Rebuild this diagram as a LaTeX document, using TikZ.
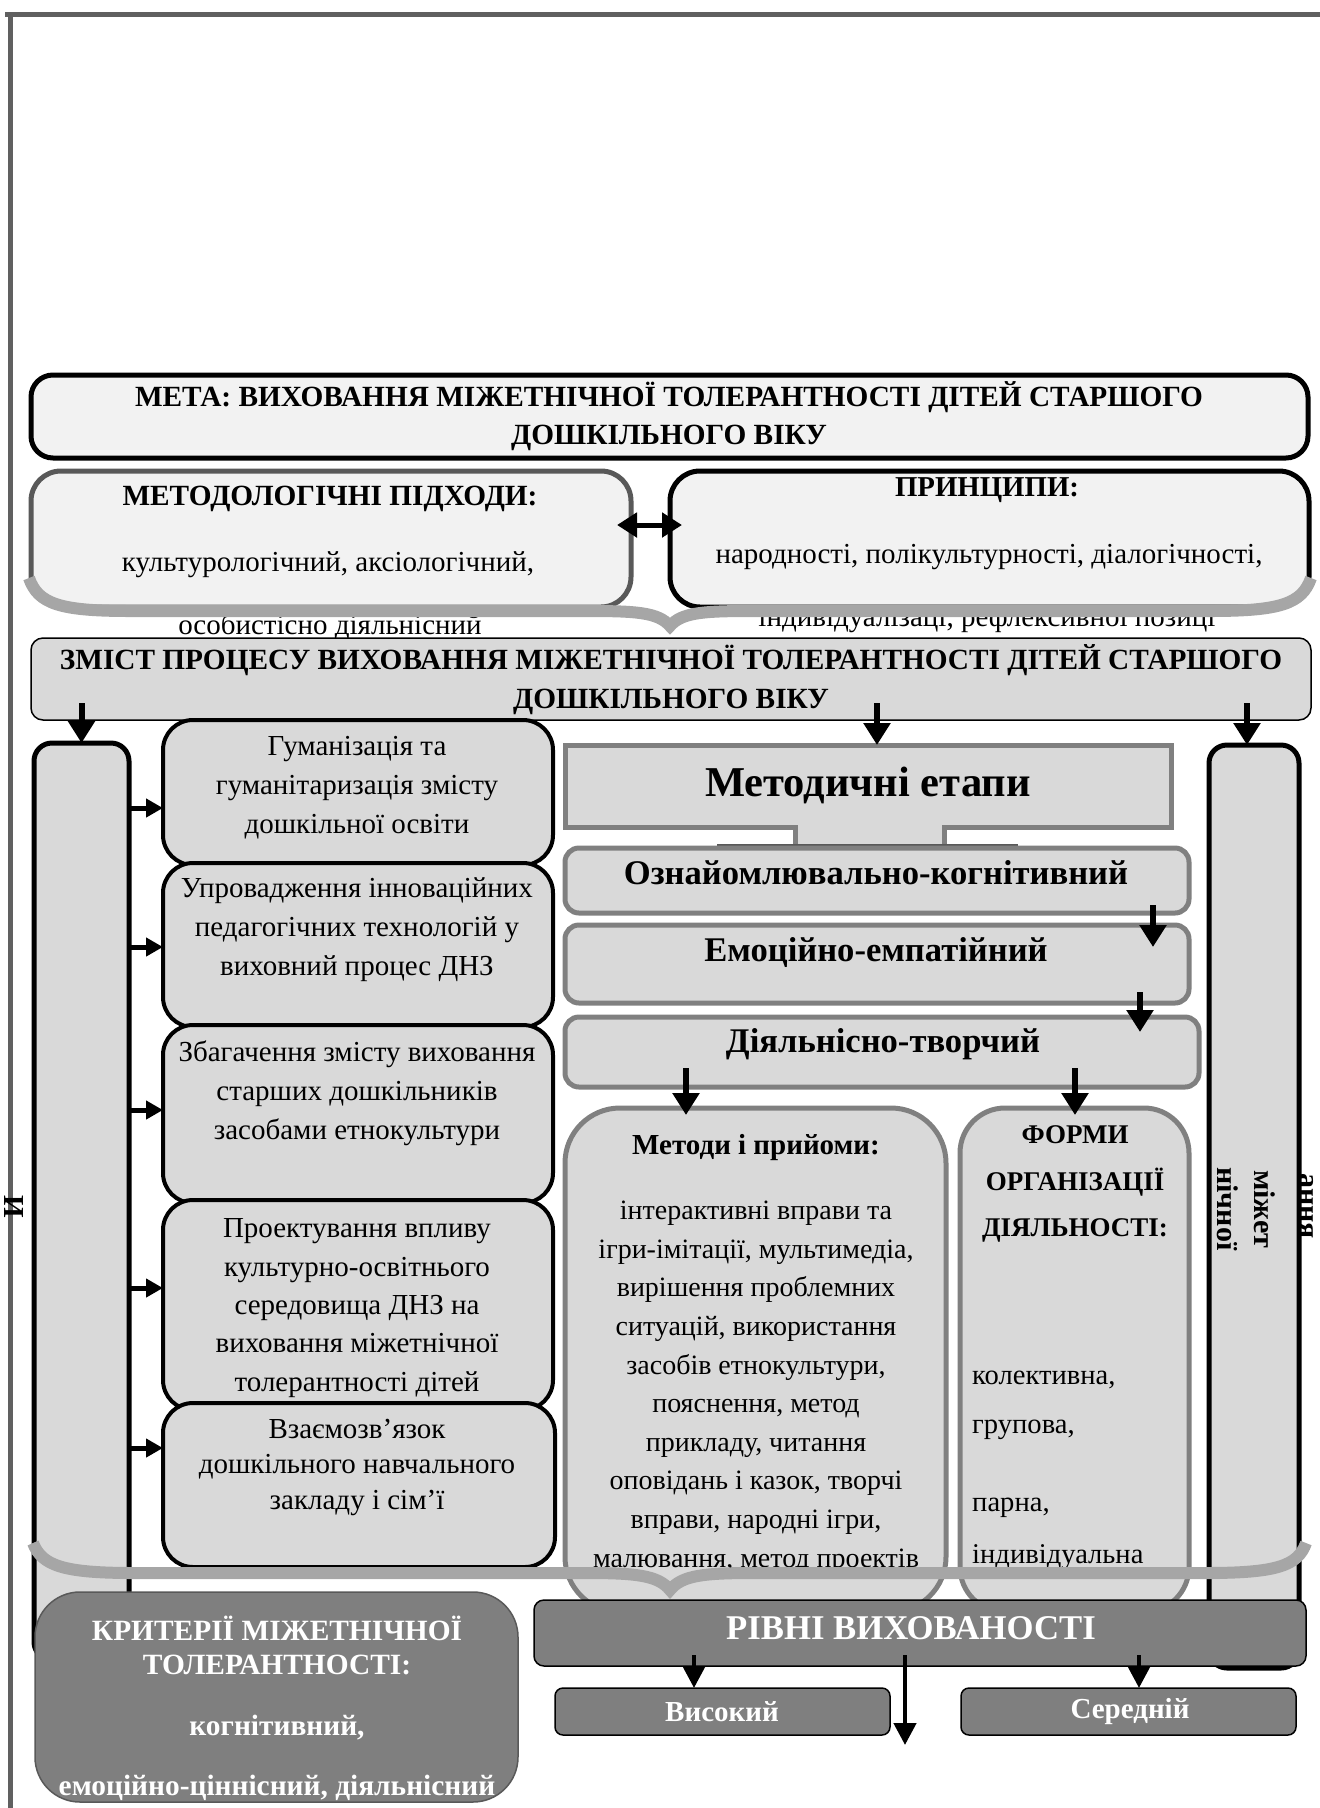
\documentclass[tikz,border=0pt]{standalone}
\usepackage{fontspec}
\setmainfont{Liberation Serif}
\usetikzlibrary{arrows.meta,calc}
\definecolor{gf}{HTML}{D9D9D9}
\definecolor{lf}{HTML}{F2F2F2}
\definecolor{mg}{HTML}{808080}
\definecolor{dg}{HTML}{595959}
\definecolor{bc}{HTML}{A6A6A6}
\definecolor{df}{HTML}{7F7F7F}
\definecolor{fr}{HTML}{606060}
\newcommand\fs[2]{\fontsize{#1pt}{#2pt}\selectfont}
\newcommand\mybox[6][]{\node[#1, inner sep=0pt, outer sep=0pt, anchor=north west, minimum width={(#5-#3)*1pt}, minimum height={(#6-#4)*1pt}] (#2) at (#3,#4) {};}
\begin{document}
\begin{tikzpicture}[x=1pt,y=-1pt,
 metab/.style={draw=black,line width=5pt,fill=lf,rounded corners=22pt},
 mdb/.style={draw=dg,line width=5pt,fill=lf,rounded corners=30pt},
 prb/.style={draw=black,line width=5pt,fill=lf,rounded corners=30pt},
 zmb/.style={draw=black,line width=1.5pt,fill=gf,rounded corners=12pt},
 colb/.style={draw=black,line width=5pt,fill=gf,rounded corners=18pt},
 lb/.style={draw=black,line width=4pt,fill=gf,rounded corners=30pt},
 stb/.style={draw=mg,line width=5pt,fill=gf,rounded corners=14pt},
 mtb/.style={draw=mg,line width=5pt,fill=gf,rounded corners=55pt},
 fmb/.style={draw=mg,line width=5pt,fill=gf,rounded corners=45pt},
 kb/.style={draw=dg,line width=1.5pt,fill=df,rounded corners=45pt},
 rb/.style={draw=black,line width=1.5pt,fill=df,rounded corners=10pt},
 vb/.style={draw=black,line width=1.5pt,fill=df,rounded corners=8pt},
 brace/.style={draw=bc,line width=12pt,line join=miter},
 darr/.style={line width=6pt,-{Triangle[length=22pt,width=26pt]}},
 sarr/.style={line width=5pt,-{Triangle[length=17pt,width=18pt]}},
 larr/.style={line width=4.5pt,-{Triangle[length=22pt,width=22pt]}},
 dbl/.style={line width=5pt,{Triangle[length=20pt,width=24pt]}-{Triangle[length=20pt,width=24pt]}},
 tx/.style={inner sep=0pt,align=center,font=\fs{29}{39}},
 bt/.style={inner sep=0pt,align=center,font=\fs{29.3}{38}\bfseries},
 wt/.style={inner sep=0pt,align=center,text=white,font=\fs{29.4}{34}\bfseries},
 rot/.style={inner sep=0pt,rotate=-90,anchor=west,font=\fs{30}{32}\bfseries}
]
\useasboundingbox (0,0) rectangle (1320,1808);
% outer frame
\draw[fr,line width=5pt] (5,14.5) -- (1320,14.5);
\draw[fr,line width=5pt] (10,12) -- (10,1808);
% goal
\mybox[metab]{meta}{31}{375}{1308}{458}
\node[bt] (tMeta) at (669,416) {МЕТА: ВИХОВАННЯ МІЖЕТНІЧНОЇ ТОЛЕРАНТНОСТІ ДІТЕЙ СТАРШОГО\\ДОШКІЛЬНОГО ВІКУ};
% approaches and principles
\mybox[mdb]{md}{31}{471}{631}{607}
\mybox[prb]{pr}{670}{471}{1309}{607}
\node[bt,font=\fs{29.3}{32}\bfseries] (tMd1) at (330,499) {МЕТОДОЛОГІЧНІ ПІДХОДИ:};
\node[tx] (tMd2) at (328,565) {культурологічний, аксіологічний,};
\node[tx] (tMd3) at (330,627) {особистісно діяльнісний};
\node[bt,font=\fs{28.8}{32}\bfseries] (tPr1) at (987,490) {ПРИНЦИПИ:};
\node[tx] (tPr2) at (989,557) {народності, полікультурності, діалогічності,};
\node[tx] (tPr3) at (987,620) {індивідуалізаці, рефлексивної позиці};
\draw[dbl] ($(md.east)+(-14,-14)$) -- ($(pr.west)+(12,-14)$);
% top brace
\draw[brace] (29,578) .. controls (38,604) and (60,611) .. (130,611) -- (585,611) .. controls (635,611) and (658,612) .. (670,626) .. controls (682,612) and (705,611) .. (755,611) -- (1210,611) .. controls (1280,611) and (1302,604) .. (1311,578);
% content
\mybox[zmb]{zm}{31}{638}{1311}{720}
\node[bt,font=\fs{29.3}{39}\bfseries] (tZm) at (671,680) {ЗМІСТ ПРОЦЕСУ ВИХОВАННЯ МІЖЕТНІЧНОЇ ТОЛЕРАНТНОСТІ ДІТЕЙ СТАРШОГО\\ДОШКІЛЬНОГО ВІКУ};
% columns
\mybox[colb]{lc}{34}{743}{129}{1660}
\mybox[colb]{rc}{1209}{745}{1299}{1668}
\node[inner sep=0pt,rotate=-90,font=\fs{29}{30}\bfseries] (tI) at (14,1207) {И};
\node[rot] (tR1) at (1265,1170) {міжет};
\node[rot] (tR2) at (1228,1167) {нічної};
\node[rot] (tR3) at (1306,1173) {ання};
% left boxes
\mybox[lb]{bA}{163}{720}{553}{865}
\mybox[lb]{bB}{163}{863}{553}{1027}
\mybox[lb]{bC}{163}{1025}{553}{1203}
\mybox[lb]{bD}{163}{1200}{553}{1410}
\mybox[lb]{bE}{163}{1403}{555}{1567}
\node[tx] (tA) at (357,788) {Гуманізація та\\гуманітаризація змісту\\дошкільної освіти};
\node[tx] (tB) at (357,930) {Упровадження інноваційних\\педагогічних технологій у\\виховний процес ДНЗ};
\node[tx] (tC) at (357,1093) {Збагачення змісту виховання\\старших дошкільників\\засобами етнокультури};
\node[tx,font=\fs{29}{38.3}] (tD) at (357,1308) {Проектування впливу\\культурно-освітнього\\середовища ДНЗ на\\виховання міжетнічної\\толерантності дітей};
\node[tx,font=\fs{29}{35.5}] (tE) at (357,1467) {Взаємозв’язок\\дошкільного навчального\\закладу і сім’ї};
\draw[sarr] (lc.east |- 0,808) -- (bA.west |- 0,808);
\draw[sarr] (lc.east |- 0,947) -- (bB.west |- 0,947);
\draw[sarr] (lc.east |- 0,1110) -- (bC.west |- 0,1110);
\draw[sarr] (lc.east |- 0,1288) -- (bD.west |- 0,1288);
\draw[sarr] (lc.east |- 0,1448) -- (bE.west |- 0,1448);
% methodical stages
\draw[draw=mg,line width=5pt,fill=gf] (565,745) -- (1171,745) -- (1171,827) -- (944,827) -- (944,852) -- (795,852) -- (795,827) -- (565,827) -- cycle;
\mybox{me}{565}{745}{1171}{827}
\draw[dg,line width=1.5pt] (717,845) -- (1018,845);
\node[inner sep=0pt,font=\fs{42.5}{45}\bfseries] (tMe) at (868,785) {Методичні етапи};
\mybox[stb]{oz}{565}{848}{1189}{913}
\mybox[stb]{em}{565}{925}{1189}{1003}
\mybox[stb]{dt}{565}{1017}{1199}{1087}
\node[inner sep=0pt,font=\fs{34.6}{36}\bfseries] (tOz) at (876,873) {Ознайомлювально-когнітивний};
\node[inner sep=0pt,font=\fs{34.6}{36}\bfseries] (tEm) at (876,952) {Емоційно-емпатійний};
\node[inner sep=0pt,font=\fs{34.6}{36}\bfseries] (tDt) at (883,1044) {Діяльнісно-творчий};
% arrows from content
\draw[darr] ([yshift=17pt]zm.south -| lc.north) -- (lc.north);
\draw[darr] ($(me.north)+(9,-42)$) -- ($(me.north)+(9,0)$);
\draw[darr] ($(rc.north)+(-7,-42)$) -- ($(rc.north)+(-7,0)$);
% stage arrows
\draw[darr] ($(oz.south east)+(-36,-8)$) -- ($(em.north east)+(-36,22)$);
\draw[darr] ($(em.south east)+(-49,-11)$) -- ($(dt.north east)+(-59,15)$);
% methods and forms
\mybox[mtb]{mt}{565}{1108}{946}{1612}
\mybox[fmb]{fm}{960}{1108}{1189}{1612}
\draw[darr] ($(dt.south west)+(121,-19)$) -- ($(mt.north west)+(121,7)$);
\draw[darr] ($(dt.south west)+(510,-19)$) -- ($(fm.north west)+(115,7)$);
\node[inner sep=0pt,font=\fs{29}{30}\bfseries] (tMt1) at (756,1148) {Методи і прийоми:};
\node[tx,font=\fs{28}{38.6}] (tMt2) at (756,1387) {інтерактивні вправи та\\ігри-імітації, мультимедіа,\\вирішення проблемних\\ситуацій, використання\\засобів етнокультури,\\пояснення, метод\\прикладу, читання\\оповідань і казок, творчі\\вправи, народні ігри,\\малювання, метод проектів};
\node[inner sep=0pt,align=center,font=\fs{27}{46.5}\bfseries] (tFm1) at (1075,1184) {ФОРМИ\\ОРГАНІЗАЦІЇ\\ДІЯЛЬНОСТІ:};
\node[tx,anchor=west,font=\fs{28.6}{30}] (tFm2) at (972,1380) {колективна,};
\node[tx,anchor=west,font=\fs{28.6}{30}] (tFm3) at (972,1430) {групова,};
\node[tx,anchor=west,font=\fs{28.6}{30}] (tFm4) at (972,1508) {парна,};
\node[tx,anchor=west,font=\fs{28.6}{30}] (tFm5) at (972,1557) {індивідуальна};
% bottom brace
\draw[brace] (33,1543) .. controls (42,1566) and (64,1573) .. (134,1573) -- (585,1573) .. controls (635,1573) and (658,1575) .. (670,1590) .. controls (682,1575) and (705,1573) .. (755,1573) -- (1206,1573) .. controls (1276,1573) and (1298,1566) .. (1306,1543);
% levels
\mybox[rb]{rv}{534}{1600}{1306}{1666}
\node[wt,font=\fs{34.7}{36}\bfseries] (tRv) at (911,1628) {РІВНІ ВИХОВАНОСТІ};
\mybox[vb]{vs}{555}{1688}{890}{1735}
\mybox[vb]{sr}{961}{1688}{1296}{1735}
\node[wt,font=\fs{29}{30}\bfseries] (tVs) at (722,1712) {Високий};
\node[wt,font=\fs{29}{30}\bfseries] (tSr) at (1130,1712) {Середній};
\coordinate (lowend) at (905,1745);
\draw[larr] ($(rv.south west)+(160,-11)$) -- ($(vs.north west)+(139,0)$);
\draw[larr] ($(rv.south west)+(371,-11)$) -- (lowend);
\draw[larr] ($(rv.south west)+(605,-11)$) -- ($(sr.north west)+(178,0)$);
% criteria
\mybox[kb]{kr}{35}{1592}{518}{1802}
\node[wt] (tKr1) at (277,1645) {КРИТЕРІЇ МІЖЕТНІЧНОЇ\\ТОЛЕРАНТНОСТІ:};
\node[wt] (tKr2) at (277,1728) {когнітивний,};
\node[wt] (tKr3) at (277,1788) {емоційно-ціннісний, діяльнісний};
\end{tikzpicture}
\end{document}
